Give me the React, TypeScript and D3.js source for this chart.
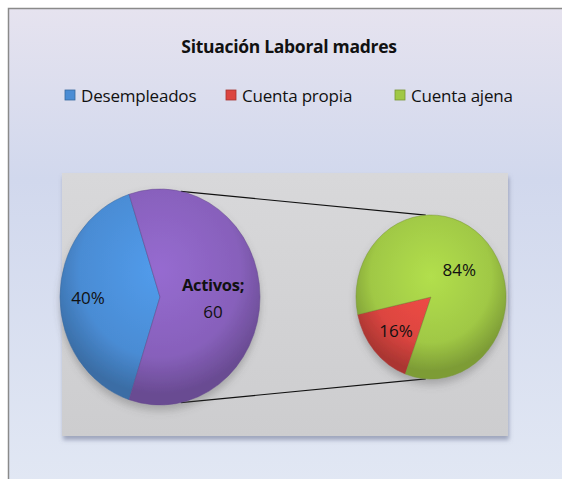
import React from "react";
import * as d3 from "d3";

// datos
const mainLabels = ["Desempleados", "Activos"];
const mainValues = [40, 60];
const subLabels = ["Cuenta propia", "Cuenta ajena"];
const subValues = [16, 84];
const legendItems = ["Desempleados", "Cuenta propia", "Cuenta ajena"];

const W = 562;
const H = 479;
const FONT = "'Open Sans', 'Noto Sans', sans-serif";

const colors: Record<string, string> = {
  Desempleados: "#4a8cd4",
  Activos: "#8760bb",
  "Cuenta propia": "#dc4540",
  "Cuenta ajena": "#a0c845",
};

const deg = (a: number) => (a * Math.PI) / 180;

type PieSpec = {
  cx: number;
  cy: number;
  rx: number;
  ry: number;
  start: number;
};

const left: PieSpec = { cx: 160, cy: 297, rx: 100, ry: 108, start: 198 };
const right: PieSpec = { cx: 431, cy: 297, rx: 75, ry: 82, start: 200 };

// punto sobre la elipse (ángulo en grados, horario desde arriba)
function edge(p: PieSpec, a: number): [number, number] {
  return [p.cx + p.rx * Math.sin(deg(a)), p.cy - p.ry * Math.cos(deg(a))];
}

function Pie({ spec, labels, values, texts, labelK, id }: {
  spec: PieSpec; labels: string[]; values: number[];
  texts: (i: number) => React.ReactNode; labelK: number[]; id: string;
}) {
  const arcs = d3.pie<number>().sort(null)
    .startAngle(deg(spec.start)).endAngle(deg(spec.start + 360))(values);
  const arc = d3.arc<d3.PieArcDatum<number>>().innerRadius(0).outerRadius(spec.ry);
  const sx = spec.rx / spec.ry;
  return (
    <g>
      <defs>
        {labels.map((l, i) => (
          <radialGradient key={l} id={`${id}-g${i}`} gradientUnits="userSpaceOnUse"
            cx={0} cy={-spec.ry * 0.25} r={spec.ry * 1.15}>
            <stop offset="0%" stopColor={d3.color(colors[l])!.brighter(0.3).formatHex()} />
            <stop offset="70%" stopColor={colors[l]} />
            <stop offset="100%" stopColor={d3.color(colors[l])!.darker(0.7).formatHex()} />
          </radialGradient>
        ))}
      </defs>
      <g transform={`translate(${spec.cx},${spec.cy}) scale(${sx},1)`} filter="url(#pieShadow)">
        {arcs.map((a, i) => (
          <path key={i} d={arc(a) ?? ""} fill={`url(#${id}-g${i})`}
            stroke={d3.color(colors[labels[i]])!.darker(0.8).formatHex()} strokeOpacity={0.5}
            strokeWidth={1} vectorEffect="non-scaling-stroke" />
        ))}
      </g>
      {arcs.map((a, i) => {
        const mid = (a.startAngle + a.endAngle) / 2;
        const x = spec.cx + spec.rx * labelK[i] * Math.sin(mid);
        const y = spec.cy - spec.ry * labelK[i] * Math.cos(mid);
        return (
          <g key={i} transform={`translate(${x},${y})`}>{texts(i)}</g>
        );
      })}
    </g>
  );
}

export default function App() {
  const mainTotal = d3.sum(mainValues);
  const subTotal = d3.sum(subValues);
  const pct = (v: number, t: number) => `${Math.round((v / t) * 100)}%`;

  const l1 = edge(left, 12), l2 = edge(left, 168);
  const r1 = edge(right, 356), r2 = edge(right, 184);

  // leyenda
  const legendX = [65, 226, 395];
  const fs = 17;

  return (
    <div style={{ position: "absolute", left: 0, top: 0 }}>
      <svg width={W} height={H} fontFamily={FONT}>
        <defs>
          <linearGradient id="bg" x1="0" y1="0" x2="0" y2="1">
            <stop offset="0%" stopColor="#e6e3ef" />
            <stop offset="35%" stopColor="#d1d8ed" />
            <stop offset="100%" stopColor="#e2e8f4" />
          </linearGradient>
          <linearGradient id="plot" x1="0" y1="0" x2="0" y2="1">
            <stop offset="0%" stopColor="#d8d8da" />
            <stop offset="100%" stopColor="#cdcdcf" />
          </linearGradient>
          <filter id="plotShadow" x="-5%" y="-5%" width="110%" height="115%">
            <feDropShadow dx="1" dy="4" stdDeviation="2" floodColor="#6a7090" floodOpacity="0.55" />
          </filter>
          <filter id="pieShadow" x="-20%" y="-20%" width="140%" height="150%">
            <feDropShadow dx="0" dy="5" stdDeviation="4" floodColor="#555" floodOpacity="0.35" />
          </filter>
        </defs>
        <rect x={0} y={0} width={W} height={H} fill="#fff" />
        <rect x={8.5} y={8.5} width={W + 10} height={H + 10} fill="url(#bg)" stroke="#8a8a8a" strokeWidth={1.5} />

        <text x={289} y={46} textAnchor="middle" dominantBaseline="central" fontSize={17.5}
          fontWeight="bold" fill="#111" letterSpacing={-0.3}>Situación Laboral madres</text>

        {legendItems.map((l, i) => (
          <g key={l} transform={`translate(${legendX[i]},${95})`}>
            <rect x={0} y={-5} width={10} height={10} fill={colors[l]}
              stroke={d3.color(colors[l])!.darker(0.8).formatHex()} strokeWidth={0.8} />
            <text x={16} y={0} dominantBaseline="central" fontSize={fs} fill="#111" letterSpacing={-0.2}>{l}</text>
          </g>
        ))}

        <rect x={62} y={173} width={446} height={263} fill="url(#plot)" filter="url(#plotShadow)" />

        <line x1={l1[0]} y1={l1[1]} x2={r1[0]} y2={r1[1]} stroke="#111" strokeWidth={1.2} />
        <line x1={l2[0]} y1={l2[1]} x2={r2[0]} y2={r2[1]} stroke="#111" strokeWidth={1.2} />

        <Pie spec={left} labels={mainLabels} values={mainValues} id="m" labelK={[0.72, 0.53]}
          texts={(i) => i === 0
            ? <text textAnchor="middle" dominantBaseline="central" fontSize={fs} fill="#111">{pct(mainValues[0], mainTotal)}</text>
            : <g>
                <text y={-13} textAnchor="middle" dominantBaseline="central" fontSize={16.5} fontWeight="bold" fill="#111" letterSpacing={-0.3}>{mainLabels[1]};</text>
                <text y={14} textAnchor="middle" dominantBaseline="central" fontSize={fs} fill="#111">{mainValues[1]}</text>
              </g>} />

        <Pie spec={right} labels={subLabels} values={subValues} id="s" labelK={[0.62, 0.5]}
          texts={(i) => <text textAnchor="middle" dominantBaseline="central" fontSize={fs} fill="#111">{pct(subValues[i], subTotal)}</text>} />
      </svg>
    </div>
  );
}
